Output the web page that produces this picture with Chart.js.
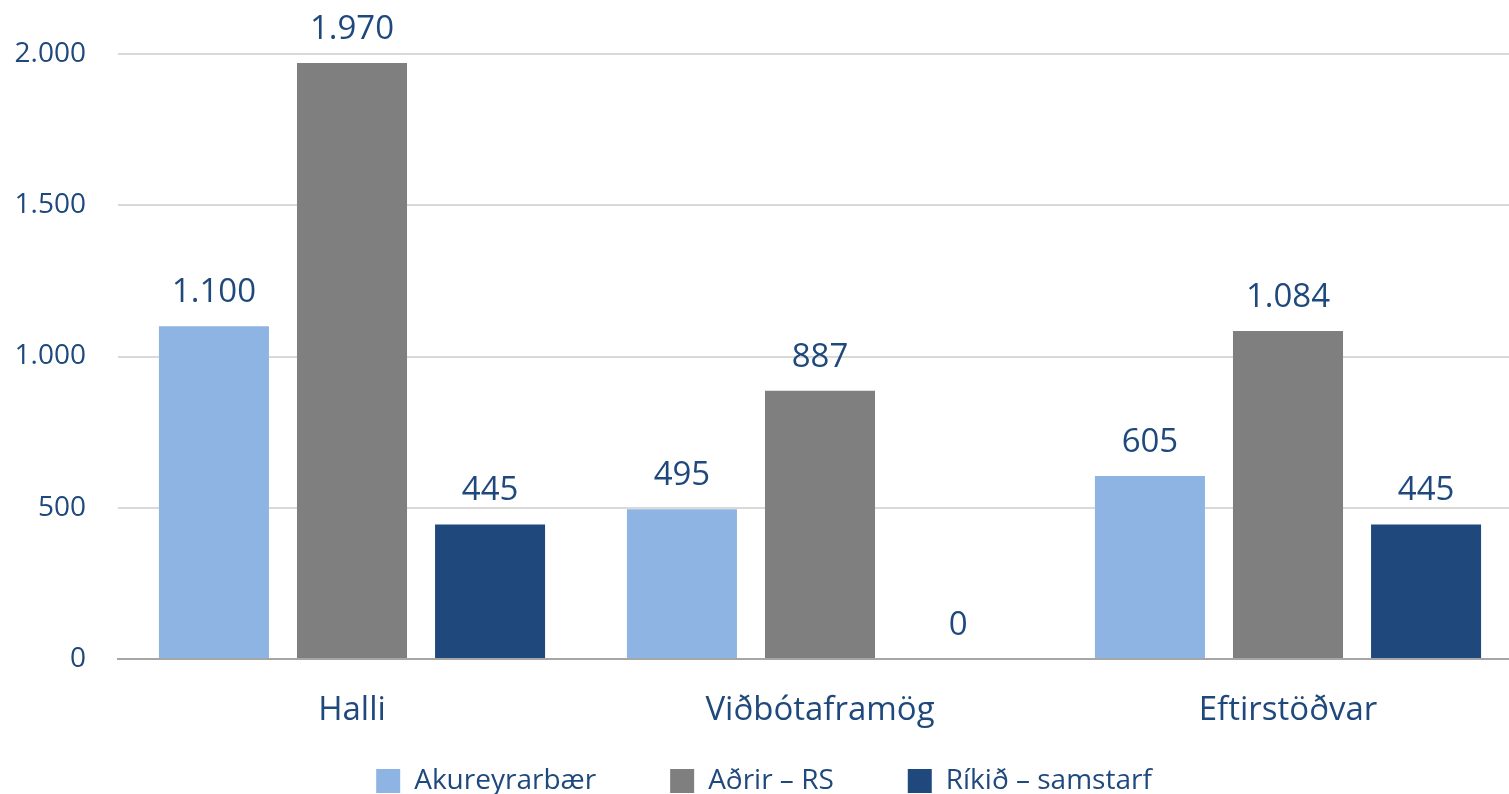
<!DOCTYPE html>
<html>
<head>
<meta charset="utf-8">
<script src="https://cdn.jsdelivr.net/npm/chart.js@4/dist/chart.umd.min.js"></script>
<style>
  html, body { margin: 0; padding: 0; background: #ffffff; overflow: hidden; }
  #wrap { width: 1560px; height: 794px; }
</style>
</head>
<body>
<div id="wrap"><canvas id="c" width="1560" height="794"></canvas></div>
<script>
const categories = ["Halli", "Viðbótaframög", "Eftirstöðvar"];
const seriesNames = ["Akureyrarbær", "Aðrir – RS", "Ríkið – samstarf"];
const akureyrarbaer = [1100, 495, 605];
const adrirRS = [1970, 887, 1084];
const rikidSamstarf = [445, 0, 445];
const yTicks = [0, 500, 1000, 1500, 2000];

const colors = ["#8EB4E3", "#7F7F7F", "#1F497D"];
const textColor = "#1F497D";
const FONT = "'Open Sans', 'Noto Sans', sans-serif";

function fmt(v) {
  return String(Math.round(v)).replace(/\B(?=(\d{3})+(?!\d))/g, ".");
}

const valueLabels = {
  id: "valueLabels",
  afterDatasetsDraw(chart) {
    const ctx = chart.ctx;
    ctx.save();
    ctx.font = "33px " + FONT;
    ctx.fillStyle = textColor;
    ctx.textAlign = "center";
    ctx.textBaseline = "alphabetic";
    chart.data.datasets.forEach((ds, di) => {
      const meta = chart.getDatasetMeta(di);
      meta.data.forEach((el, i) => {
        ctx.fillText(fmt(ds.data[i]), el.x, el.y - 24);
      });
    });
    ctx.restore();
  }
};

new Chart(document.getElementById("c"), {
  type: "bar",
  data: {
    labels: categories,
    datasets: [
      { label: seriesNames[0], data: akureyrarbaer, backgroundColor: colors[0] },
      { label: seriesNames[1], data: adrirRS, backgroundColor: colors[1] },
      { label: seriesNames[2], data: rikidSamstarf, backgroundColor: colors[2] }
    ]
  },
  options: {
    responsive: false,
    animation: false,
    devicePixelRatio: 1,
    categoryPercentage: 0.885,
    barPercentage: 0.797,
    layout: { padding: { top: 54, left: -32, right: 0, bottom: 0 } },
    plugins: {
      tooltip: { enabled: false },
      legend: {
        position: "bottom",
        maxHeight: 101,
        labels: {
          font: { family: FONT, size: 28 },
          color: textColor,
          boxWidth: 24,
          boxHeight: 24,
          padding: 74
        }
      }
    },
    scales: {
      x: {
        grid: { display: false, drawTicks: false },
        border: { display: true, color: "#A6A6A6", width: 2 },
        ticks: { font: { family: FONT, size: 33 }, color: textColor, mirror: true, padding: -71 },
        afterFit(scale) { scale.height = 34; }
      },
      y: {
        min: 0,
        max: 2000,
        afterBuildTicks(scale) { scale.ticks = yTicks.map(v => ({ value: v })); },
        grid: { color: "#D9D9D9", lineWidth: 2, drawTicks: false },
        border: { display: false },
        ticks: {
          font: { family: FONT, size: 28 },
          color: textColor,
          padding: 32,
          callback: (v) => fmt(v)
        },
        afterFit(scale) { scale.width = 150; }
      },
      yRight: {
        position: "right",
        display: true,
        grid: { display: false, drawTicks: false },
        border: { display: false },
        ticks: { display: false },
        afterFit(scale) { scale.width = 38; }
      }
    }
  },
  plugins: [valueLabels]
});
</script>
</body>
</html>
